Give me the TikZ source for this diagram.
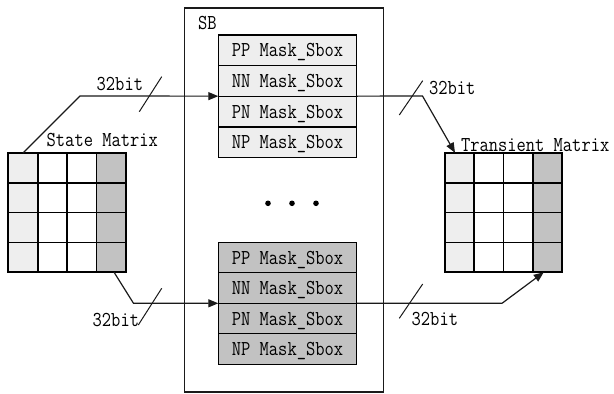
\documentclass[tikz,border=0pt]{standalone}
\usepackage{fontspec}
\usepackage{graphicx}
\usetikzlibrary{arrows.meta}
\definecolor{lightfill}{HTML}{EEEEEE}
\definecolor{darkfill}{HTML}{C2C2C2}
\definecolor{linec}{HTML}{1A1A1A}
\newcommand\mytxt[1]{\scalebox{1}[1.18]{\fontsize{18}{20}\selectfont\ttfamily #1}}
\begin{document}
\begin{tikzpicture}[x=1pt,y=-1pt,
  cell/.style={draw=black,line width=1.7pt,minimum width=29.35pt,minimum height=29.8pt,inner sep=0pt,outer sep=0pt},
  sbox/.style={draw=black,line width=1.3pt,minimum width=138.4pt,minimum height=30.5pt,inner sep=0pt,outer sep=0pt,text height=13pt,text depth=0pt},
  conn/.style={draw=linec,line width=1.2pt},
  arr/.style={conn,-{Triangle[length=10pt,width=8pt]}},
  slash/.style={draw=linec,line width=1pt},
  lbl/.style={anchor=base west,inner sep=0pt,outer sep=0pt}]
\useasboundingbox (0,0) rectangle (614,394);
\fill[white] (0,0) rectangle (614,394);
% SB container
\node[draw=linec,line width=1.2pt,minimum width=199pt,minimum height=384pt,inner sep=0pt,outer sep=0pt] (sb) at (284,200) {};
\node[lbl] (sblabel) at (198,29.3) {\mytxt{SB}};
% matrices
\foreach \r in {1,...,4}{
  \foreach \c/\f in {1/lightfill,2/white,3/white,4/darkfill}{
    \node[cell,fill=\f] (s-\r-\c) at ({8.3+29.35*(\c-0.5)},{153+29.8*(\r-0.5)}) {};
    \node[cell,fill=\f,minimum width=29.25pt] (t-\r-\c) at ({445+29.25*(\c-0.5)},{152.7+29.9*(\r-0.5)}) {};
  }
}
\node[lbl] (smlabel) at (46.7,146.7) {\mytxt{State Matrix}};
% sboxes
\foreach \i/\n in {1/PP,2/NN,3/PN,4/NP}{
  \node[sbox,fill=lightfill] (u\i) at (287.5,{35+30.6*(\i-0.5)}) {\mytxt{\n\ Mask\_Sbox}};
  \node[sbox,fill=darkfill] (l\i) at (287.5,{242.3+30.5*(\i-0.5)}) {\mytxt{\n\ Mask\_Sbox}};
}
% dots
\fill[black] (268,203.3) circle (2.8pt);
\fill[black] (292,203.3) circle (2.8pt);
\fill[black] (316,203.3) circle (2.8pt);
% bend points
\coordinate (b1) at (80,96);
\coordinate (b2) at (422.5,96);
\coordinate (b3) at (133.5,303.3);
\coordinate (b4) at (502,303.3);
% connectors
\draw[arr] (s-1-1.north) -- (b1) -- (u2.south west);
\draw[arr] (u2.south east) -- (b2) -- ([xshift=10pt]t-1-1.north west);
\draw[arr] ([xshift=3pt]s-4-4.south) -- (b3) -- (l2.south west);
\draw[arr] (l2.south east) -- (b4) -- ([xshift=11pt]t-4-4.south west);
\node[lbl] (tmlabel) at (461,151.7) {\mytxt{Transient Matrix}};
% bus width marks
\draw[slash] (139.3,111.7) -- (161.7,76.7);
\draw[slash] (399.3,115) -- (422.7,80.7);
\draw[slash] (138.3,325) -- (161.7,288.3);
\draw[slash] (399.3,318.3) -- (422.7,284);
\node[lbl] (w1) at (96.7,90.7) {\mytxt{32bit}};
\node[lbl] (w2) at (429,94.3) {\mytxt{32bit}};
\node[lbl] (w3) at (92.7,326.7) {\mytxt{32bit}};
\node[lbl] (w4) at (411.7,325) {\mytxt{32bit}};
\end{tikzpicture}
\end{document}
